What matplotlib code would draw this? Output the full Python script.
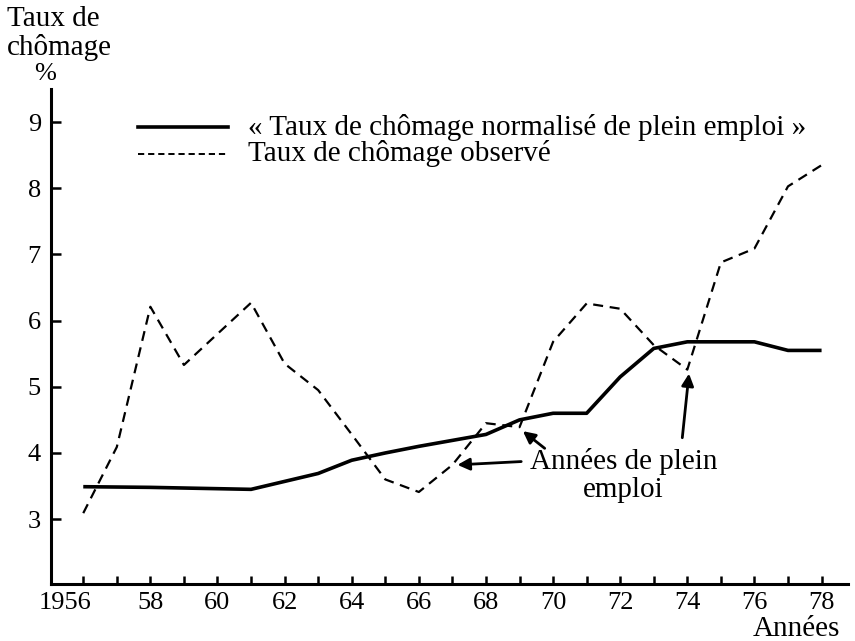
import matplotlib
matplotlib.use("Agg")
import matplotlib.pyplot as plt
from matplotlib.transforms import ScaledTranslation

years = list(range(1956, 1979))
normalise = [3.49, 3.485, 3.48, 3.47, 3.46, 3.45, 3.57, 3.69, 3.89, 4.00,
             4.10, 4.19, 4.28, 4.50, 4.60, 4.60, 5.15, 5.58, 5.68, 5.68,
             5.68, 5.55, 5.55]
observe = [3.09, 4.09, 6.21, 5.33, 5.80, 6.27, 5.35, 4.95, 4.28, 3.60,
           3.41, 3.82, 4.45, 4.39, 5.68, 6.26, 6.18, 5.63, 5.26, 6.88,
           7.09, 8.03, 8.35]
major_years = list(range(1956, 1979, 2))
major_labels = ["1956"] + [str(y)[2:] for y in major_years[1:]]
y_ticks = [3, 4, 5, 6, 7, 8, 9]

plt.rcParams['font.family'] = ['Liberation Serif', 'DejaVu Serif']

fig = plt.figure(figsize=(8.55, 6.41), dpi=100)
ax = fig.add_axes([0.0593, 0.089, 0.933, 0.772])

ax.plot(years, normalise, color='black', lw=2.6, solid_joinstyle='round',
        solid_capstyle='butt')
ax.plot(years, observe, color='black', lw=1.6, dashes=(4.5, 3))

ax.set_xlim(1955.03, 1978.8)
ax.set_ylim(2.02, 9.5)

for s in ['top', 'right']:
    ax.spines[s].set_visible(False)
for s in ['left', 'bottom']:
    ax.spines[s].set_linewidth(2.2)

ax.set_xticks(major_years)
ax.set_xticklabels(major_labels)
ax.set_xticks([y for y in years if y not in major_years], minor=True)
ax.set_yticks(y_ticks)
ax.tick_params(axis='x', which='both', direction='in', length=6, width=1.8,
               labelsize=19, pad=6)
ax.tick_params(axis='y', direction='in', length=7, width=1.8,
               labelsize=19, pad=7)
first = ax.get_xticklabels()[0]
first.set_transform(first.get_transform() +
                    ScaledTranslation(-0.18, 0, fig.dpi_scale_trans))

# legend (drawn manually in axes-fraction coords)
ax.plot([0.1095, 0.2225], [0.923, 0.923], transform=ax.transAxes,
        color='black', lw=2.6, clip_on=False)
ax.plot([0.1095, 0.2225], [0.869, 0.869], transform=ax.transAxes,
        color='black', lw=1.4, dashes=(3.2, 2), clip_on=False)
ax.text(0.2476, 0.923, "« Taux de chômage normalisé de plein emploi »",
        transform=ax.transAxes, fontsize=21, va='center', ha='left')
ax.text(0.2476, 0.869, "Taux de chômage observé",
        transform=ax.transAxes, fontsize=21, va='center', ha='left')

# annotations
ax.text(1972.1, 3.66, "Années de plein\nemploi", fontsize=21, ha='center',
        va='center', linespacing=1.12)
arrow = dict(arrowstyle='-|>', color='black', lw=2.0, mutation_scale=18,
             shrinkA=0, shrinkB=0)
ax.annotate("", xy=(1967.15, 3.82), xytext=(1969.05, 3.87), arrowprops=arrow)
ax.annotate("", xy=(1969.1, 4.33), xytext=(1969.75, 4.07), arrowprops=arrow)
ax.annotate("", xy=(1974.05, 5.2), xytext=(1973.85, 4.23), arrowprops=arrow)

fig.text(0.008, 0.948, "Taux de\nchômage", fontsize=21, ha='left', va='center',
         linespacing=1.12)
fig.text(0.053, 0.884, "%", fontsize=19, ha='center', va='center')
fig.text(0.983, 0.018, "Années", fontsize=21, ha='right', va='center')

fig.savefig("out.png", dpi=100)
